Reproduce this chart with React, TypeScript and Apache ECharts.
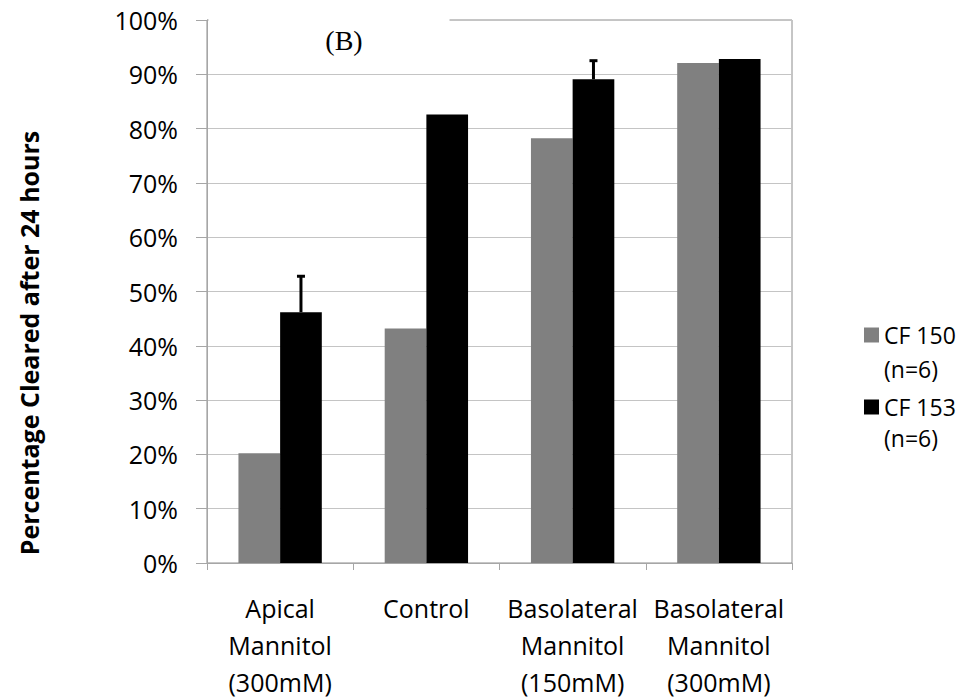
import React, { useEffect, useRef } from "react";
import * as echarts from "echarts";

const categories = [
  "Apical\nMannitol\n(300mM)",
  "Control",
  "Basolateral\nMannitol\n(150mM)",
  "Basolateral\nMannitol\n(300mM)",
];
const cf150Values = [20.2, 43.2, 78.2, 92.1];
const cf153Values = [46.2, 82.6, 89.1, 92.8];
const cf153Errors = [6.7, 0, 3.5, 0];
const seriesNames = ["CF 150", "CF 153"];
const legendSubLabel = "(n=6)";
const yTitle = "Percentage Cleared after 24 hours";
const panelLabel = "(B)";

const FONT = "'Open Sans', 'Noto Sans', sans-serif";
const GAP = 0.43;

export default function App() {
  const ref = useRef<HTMLDivElement>(null);
  useEffect(() => {
    if (!ref.current) return;
    const chart = echarts.init(ref.current, null, { renderer: "svg" });
    const errData = cf153Values.map((v, i) => [i, v, cf153Errors[i]]);
    chart.setOption({
      animation: false,
      backgroundColor: "#ffffff",
      grid: {
        left: 207,
        right: 170,
        top: 20,
        bottom: 137,
        show: true,
        borderColor: "#8c8c8c",
        borderWidth: 1,
        backgroundColor: "transparent",
      },
      legend: {
        orient: "vertical",
        left: 864,
        top: 323,
        padding: 0,
        itemWidth: 15,
        itemHeight: 15,
        itemGap: 48,
        icon: "rect",
        data: seriesNames,
        textStyle: { fontFamily: FONT, fontSize: 23, color: "#000", lineHeight: 24 },
      },
      xAxis: {
        type: "category",
        data: categories,
        axisLine: { lineStyle: { color: "#a6a6a6", width: 1 } },
        axisTick: { show: true, length: 7, lineStyle: { color: "#a6a6a6" } },
        axisLabel: {
          fontFamily: FONT,
          fontSize: 25,
          color: "#000",
          lineHeight: 37,
          margin: 26,
          interval: 0,
        },
      },
      yAxis: {
        type: "value",
        min: 0,
        max: 100,
        interval: 10,
        axisLine: { show: true, lineStyle: { color: "#a6a6a6", width: 1 } },
        axisTick: { show: true, length: 11, lineStyle: { color: "#a6a6a6" } },
        axisLabel: {
          formatter: "{value}%",
          fontFamily: FONT,
          fontSize: 25,
          color: "#000",
          margin: 29,
        },
        splitLine: { show: true, lineStyle: { color: "#c4c4c4", width: 1 } },
      },
      series: [
        {
          name: seriesNames[0],
          type: "bar",
          data: cf150Values,
          barGap: "0%",
          barCategoryGap: GAP * 100 + "%",
          itemStyle: { color: "#808080" },
        },
        {
          name: seriesNames[1],
          type: "bar",
          data: cf153Values,
          barGap: "0%",
          barCategoryGap: GAP * 100 + "%",
          itemStyle: { color: "#000000" },
        },
        {
          name: "err",
          type: "custom",
          data: errData,
          z: 5,
          encode: { x: 0, y: 1 },
          renderItem: (params: any, api: any) => {
            const idx = api.value(0);
            const v = api.value(1);
            const e = api.value(2);
            if (!e) return null;
            const base = api.coord([idx, v]);
            const top = api.coord([idx, v + e]);
            const band = api.size([1, 0])[0];
            const bw = (band * (1 - GAP)) / 2;
            const x = base[0] + bw / 2;
            return {
              type: "group",
              children: [
                {
                  type: "line",
                  shape: { x1: x, y1: base[1], x2: x, y2: top[1] },
                  style: { stroke: "#000", lineWidth: 3 },
                },
                {
                  type: "rect",
                  shape: { x: x - 4, y: top[1] - 1, width: 8, height: 3 },
                  style: { fill: "#000" },
                },
              ],
            };
          },
        },
      ],
      graphic: [
        {
          type: "rect",
          shape: { x: 208.5, y: 12, width: 241, height: 16 },
          style: { fill: "#ffffff" },
          z: 100,
        },
        {
          type: "text",
          x: 344,
          y: 40,
          z: 101,
          style: {
            text: panelLabel,
            font: "28px 'Liberation Serif', 'Times New Roman', serif",
            fill: "#000",
            textAlign: "center",
            textVerticalAlign: "middle",
          },
        },
        {
          type: "text",
          x: 29,
          y: 343,
          rotation: Math.PI / 2,
          style: {
            text: yTitle,
            font: "bold 25px " + FONT,
            fill: "#000",
            textAlign: "center",
            textVerticalAlign: "middle",
          },
        },
        {
          type: "text",
          x: 884,
          y: 369,
          style: {
            text: legendSubLabel,
            font: "23px " + FONT,
            fill: "#000",
            textAlign: "left",
            textVerticalAlign: "middle",
          },
        },
        {
          type: "text",
          x: 884,
          y: 438,
          style: {
            text: legendSubLabel,
            font: "23px " + FONT,
            fill: "#000",
            textAlign: "left",
            textVerticalAlign: "middle",
          },
        },
      ],
    });
    return () => chart.dispose();
  }, []);
  return (
    <div
      ref={ref}
      style={{ position: "fixed", left: 0, top: 0, width: 962, height: 700, background: "#fff" }}
    />
  );
}
